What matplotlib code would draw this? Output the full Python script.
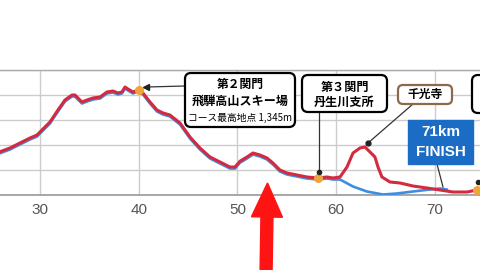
import matplotlib
matplotlib.use("Agg")
import matplotlib.pyplot as plt
from matplotlib.patches import FancyBboxPatch, FancyArrow
from matplotlib.transforms import Affine2D
from matplotlib.lines import Line2D

plt.rcParams['font.family'] = ['Noto Sans CJK JP', 'DejaVu Sans']

# ---- data (km, elevation m) ----
red_km = [25.4, 25.95, 26.96, 27.97, 28.99, 29.70, 30.20, 31.01, 31.82, 32.53, 33.24, 33.54,
          34.25, 34.76, 35.37, 36.08, 36.78, 37.39, 37.90, 38.30, 38.61, 38.91, 39.42,
          39.92, 40.43, 41.14, 41.85, 42.46, 43.16, 44.18, 45.19, 46.20, 47.22, 48.23,
          49.24, 49.75, 50.25, 50.96, 51.57, 52.28, 52.99, 53.59, 54.30, 55.01, 56.03,
          57.04, 58.15, 59.06, 59.67, 60.38, 61.09, 61.70, 62.41, 62.91, 63.42, 63.92,
          64.23, 64.63, 65.44, 66.46, 67.77, 69.19, 70.51, 71.82, 73.24, 74.25, 75.0]
red_elev = [830, 846, 876, 916, 956, 980, 1020, 1084, 1180, 1260, 1300, 1300,
            1244, 1260, 1276, 1284, 1324, 1332, 1316, 1324, 1364, 1348, 1324,
            1340, 1316, 1244, 1180, 1156, 1140, 1076, 964, 876, 804, 764,
            724, 724, 770, 804, 836, 820, 796, 756, 700, 676, 660,
            644, 636, 644, 636, 644, 724, 836, 876, 884, 844, 804,
            724, 644, 604, 596, 572, 556, 540, 524, 524, 540, 548]

blue_km = red_km[:49] + [60.38, 61.70, 63.11, 64.73, 66.15, 67.77, 69.49, 70.51, 71.22]
blue_elev = red_elev[:49] + [636, 580, 540, 516, 524, 540, 556, 564, 556]

x_ticks = [30, 40, 50, 60, 70]
checkpoint_km = [40.0, 58.2, 74.3]
checkpoint_elev = [1340, 636, 540]

W, H = 480, 270
fig = plt.figure(figsize=(W / 100, H / 100), dpi=100)
fig.patch.set_facecolor('white')
# top-down pixel transform
px = Affine2D().scale(1 / W, -1 / H).translate(0, 1) + fig.transFigure

ax = fig.add_axes([0, 1 - 195 / H, 1, 125 / H])
ax.set_xlim(25.95, 74.56)
ax.set_ylim(500, 1500)
ax.set_xticks(x_ticks)
ax.set_yticks([500, 700, 900, 1100, 1300, 1500])
ax.set_yticklabels([])
ax.tick_params(axis='y', length=0)
ax.tick_params(axis='x', length=0, pad=6, labelsize=11, labelcolor='#555555')
for lab in ax.get_xticklabels():
    lab.set_family(['Liberation Sans', 'DejaVu Sans'])
ax.grid(True, color='#cccccc', linewidth=1.0)
for s in ['left', 'right']:
    ax.spines[s].set_visible(False)
ax.spines['top'].set_color('#aaaaaa')
ax.spines['bottom'].set_color('#999999')
ax.spines['top'].set_linewidth(1.0)
ax.spines['bottom'].set_linewidth(1.2)

off = matplotlib.transforms.offset_copy(ax.transData, fig=fig, x=0, y=-1.5, units='dots')
ax.plot(blue_km, blue_elev, color='#3d8ee0', lw=1.9, transform=off, zorder=3, solid_capstyle='round')
ax.plot(red_km, red_elev, color='#d42a40', lw=2.2, zorder=4, solid_joinstyle='round')
ax.plot(checkpoint_km, checkpoint_elev, 'o', color='#f0a53a', ms=5.5, zorder=5, clip_on=False)


def box(x0, y0, x1, y1, ec='black', fc='white', lw=1.6, rad=6):
    p = FancyBboxPatch((x0, y0), x1 - x0, y1 - y0,
                       boxstyle=f"round,pad=0,rounding_size={rad}" if rad else "square,pad=0",
                       ec=ec, fc=fc, lw=lw, transform=px, zorder=10)
    fig.add_artist(p)


def txt(x, y, s, size=8.7, color='black', weight='bold', **kw):
    fig.text(x, y, s, transform=px, ha='center', va='center', fontsize=size,
             color=color, fontweight=weight, zorder=11, **kw)


def line(xs, ys, color='#333333', lw=0.9):
    fig.add_artist(Line2D(xs, ys, color=color, lw=lw, transform=px, zorder=9))


def dot(x, y, s=3):
    fig.add_artist(Line2D([x], [y], marker='o', ms=s, color='#222222', transform=px, zorder=9))


# leader lines
line([185, 147], [86, 87])
fig.add_artist(Line2D([146], [87], marker='<', ms=4, color='#222222', transform=px, zorder=9))
line([319, 319], [112, 172])
dot(319, 172, 3)
line([413, 368], [104, 143])
dot(368, 143, 3.5)
line([437, 443], [164, 187])
dot(478, 182, 3)

# box 1
box(185, 73, 295, 127)
txt(240, 84, '第２関門', size=8.5)
txt(240, 101, '飛騨高山スキー場', size=8.7)
txt(240, 118, 'コース最高地点 1,345m', size=7.0, weight='normal', stretch='condensed')

# box 2
box(302, 75, 387, 112)
txt(344.5, 87, '第３関門', size=8.7)
txt(344.5, 102, '丹生川支所', size=8.7)

# box 3
box(398, 85, 452, 104, ec='#8a6a4a', rad=5)
txt(425, 94.5, '千光寺', size=8.5)

# finish box
box(408, 120, 473, 164, ec='#1b6cc4', fc='#1b6cc4', lw=1, rad=0)
txt(440.5, 132, '71km', size=11, color='white', family=['Liberation Sans', 'DejaVu Sans'])
txt(440.5, 152, 'FINISH', size=11, color='white', family=['Liberation Sans', 'DejaVu Sans'])

# partial box at right edge
box(472, 75, 540, 113)
txt(506, 94, '第４関門', size=8.7)

# big red arrow
arr = FancyArrow(266, 275, 1.5, -92, width=12, head_width=31, head_length=34,
                 length_includes_head=True, color='#ff1414', transform=px, zorder=12)
fig.add_artist(arr)

fig.savefig('out.png', dpi=100, facecolor='white')
